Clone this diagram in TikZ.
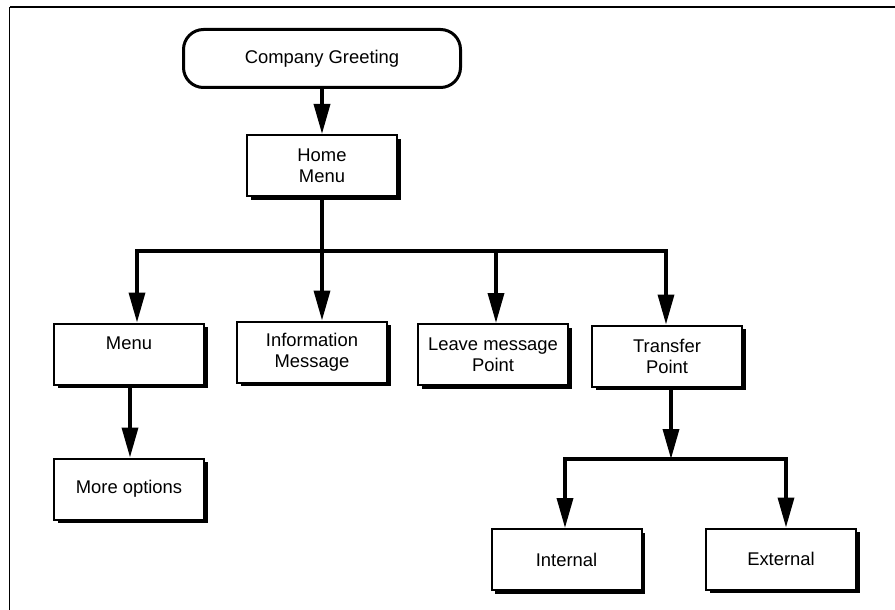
\documentclass[tikz,border=0pt]{standalone}
\usepackage{fontspec}
\setmainfont{Liberation Sans}
\usetikzlibrary{positioning}
\usetikzlibrary{arrows.meta}
\usetikzlibrary{shadows}

\begin{document}
\begin{tikzpicture}[
            x = 1pt, y = -1pt, % one unit per pixel, y runs down
            > = {Triangle[length=30pt, width=16pt]}, % big filled arrow head
            line width = 3.5pt, % connector style
            font = \fontsize{18.4}{21}\selectfont
        ]

        \tikzstyle{box}=[
            draw,
            line width = 2pt,
            fill = white,
            align = center,
            inner sep = 0pt,
            minimum width = 150pt,
            minimum height = 61pt,
            drop shadow = {shadow xshift=3.5pt, shadow yshift=-3.5pt, fill=black, opacity=1}
        ]
        \tikzstyle{start}=[
            draw,
            line width = 3pt,
            fill = white,
            rounded corners = 20pt,
            inner sep = 0pt,
            minimum width = 277pt,
            minimum height = 58pt
        ]

        \useasboundingbox (0,0) rectangle (895,610);

        % frame
        \draw[line width=2pt] (895,7.5) -- (9.5,7.5);
        \draw[line width=1.5pt] (9.5,7) -- (9.5,610);

        % top level
        \node[start] (greet) at (322,58.5) {Company Greeting};
        \node[box] (home) at (322,165.5) {Home\\Menu};

        % second level
        \node[box] (menu) at (129,354) {Menu\\~};
        \node[box] (info) at (312,352) {Information\\Message};
        \node[box] (leave) at (493,354.5) {Leave message\\Point};
        \node[box] (transfer) at (667,356) {Transfer\\Point};

        % third level
        \node[box] (more) at (129,489) {More options};
        \node[box] (internal) at (566.5,559.5) {Internal};
        \node[box] (external) at (781,559) {External};

        % bus points
        \coordinate (busL) at (137,251);
        \coordinate (busM) at (496,251);
        \coordinate (busR) at (666,251);
        \coordinate (tmid) at (671,459);
        \coordinate (tbusL) at (565,459);
        \coordinate (tbusR) at (786,459);

        \draw[->] (greet.south) -- (home.north);
        \draw[->] (home.south) -- (home.south |- info.north);
        \draw[<->] (busL |- menu.north) -- (busL) -- (busR) -- (busR |- transfer.north);
        \draw[->] (busM) -- (busM |- leave.north);

        \draw[->] (menu.south -| 130,0) -- (more.north -| 130,0);

        \draw[->] (transfer.south -| tmid) -- (tmid);
        \draw[<->] (tbusL |- internal.north) -- (tbusL) -- (tbusR) -- (tbusR |- external.north);

\end{tikzpicture}
\end{document}
